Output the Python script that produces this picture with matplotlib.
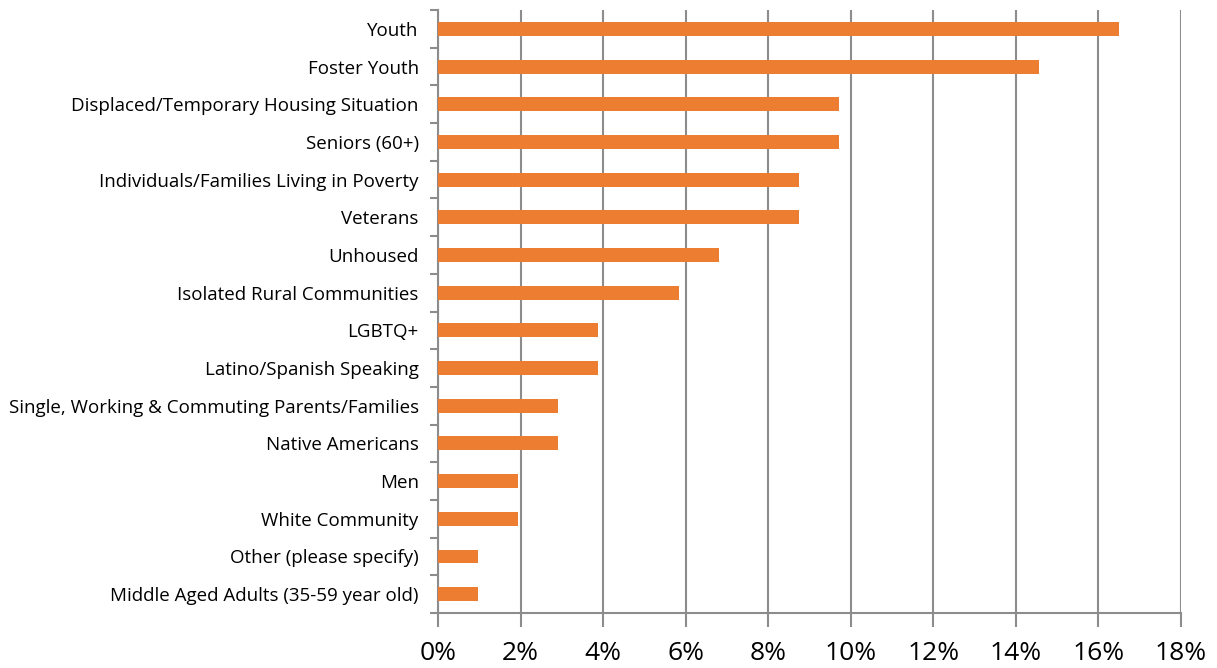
import numpy as np
from matplotlib import pyplot as plt
from matplotlib.ticker import FixedLocator, NullFormatter

# categories, top to bottom
groups = [
    "Youth",
    "Foster Youth",
    "Displaced/Temporary Housing Situation",
    "Seniors (60+)",
    "Individuals/Families Living in Poverty",
    "Veterans",
    "Unhoused",
    "Isolated Rural Communities",
    "LGBTQ+",
    "Latino/Spanish Speaking",
    "Single, Working & Commuting Parents/Families",
    "Native Americans",
    "Men",
    "White Community",
    "Other (please specify)",
    "Middle Aged Adults (35-59 year old)",
]
shares = [16.5, 14.56, 9.71, 9.71, 8.74, 8.74, 6.80, 5.83,
          3.88, 3.88, 2.91, 2.91, 1.94, 1.94, 0.97, 0.97]
x_ticks = [0, 2, 4, 6, 8, 10, 12, 14, 16, 18]

bar_color = "#ED7D31"
grid_color = "#8C8C8C"

fig = plt.figure(figsize=(12.17, 6.68), dpi=100)
ax = fig.add_axes([0.36, 0.0823, 0.6104, 0.9027])

pos = np.arange(len(groups))[::-1]
ax.barh(pos, shares, height=0.37, color=bar_color, zorder=3)

ax.set_xlim(0, 18)
ax.set_ylim(-0.5, len(groups) - 0.5)

# x axis
ax.set_xticks(x_ticks)
ax.set_xticklabels([f"{t}%" for t in x_ticks], fontsize=19, family="Open Sans")
ax.tick_params(axis="x", length=10, width=1.5, color=grid_color, pad=10)
ax.grid(axis="x", color=grid_color, linewidth=1.5, zorder=0)

# y axis: labels at bars, ticks between categories
ax.set_yticks(pos)
ax.set_yticklabels(groups, fontsize=13.5, family="Open Sans")
ax.tick_params(axis="y", which="major", length=0, pad=14)
ax.yaxis.set_minor_locator(FixedLocator(np.arange(-0.5, len(groups), 1)))
ax.yaxis.set_minor_formatter(NullFormatter())
ax.tick_params(axis="y", which="minor", length=6, width=1.5, color=grid_color)

for side in ["top", "right"]:
    ax.spines[side].set_visible(False)
for side in ["left", "bottom"]:
    ax.spines[side].set_color(grid_color)
    ax.spines[side].set_linewidth(1.5)

fig.savefig("out.png")
